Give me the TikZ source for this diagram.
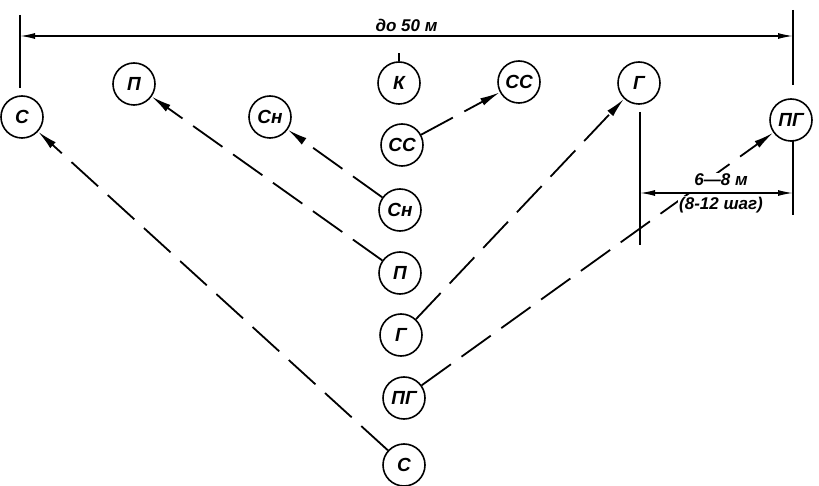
\documentclass[tikz,border=0pt]{standalone}
\usepackage{fontspec}
\setmainfont{Liberation Sans}
\usetikzlibrary{arrows.meta}
\begin{document}
\begin{tikzpicture}[x=1pt,y=-1pt,
    man/.style={draw,circle,line width=1.6pt,minimum size=42pt,inner sep=0pt,font=\bfseries\itshape\fontsize{19}{19}\selectfont},
    move/.style={line width=1.8pt,dash pattern=on 36pt off 13pt,-{Latex[length=20pt,width=8pt]}},
    dim/.style={line width=1.4pt,{Latex[length=15pt,width=6pt]}-{Latex[length=15pt,width=6pt]}},
    lbl/.style={font=\bfseries\itshape\fontsize{17}{17}\selectfont,inner sep=1pt}]
    \useasboundingbox (0,0) rectangle (819,486);
      % top row
      \node[man] (sl) at (22,117) {С};
      \node[man] (pt) at (134,84) {П};
      \node[man] (snt) at (270,117) {Сн};
      \node[man] (k) at (399,83) {К};
      \node[man] (sst) at (519,82) {СС};
      \node[man] (gt) at (639,83) {Г};
      \node[man] (pgr) at (791,120) {ПГ};
      % column
      \node[man] (ssm) at (402,145) {СС};
      \node[man] (snm) at (400,210) {Сн};
      \node[man] (pm) at (400,273) {П};
      \node[man] (gm) at (401,335) {Г};
      \node[man] (pgm) at (404,398) {ПГ};
      \node[man] (sb) at (404,465) {С};
      % moves
      \draw[move] (sb) -- (sl);
      \draw[move] (pm) -- (pt);
      \draw[move] (snm) -- (snt);
      \draw[move] (ssm) -- (sst);
      \draw[move] (gm) -- (gt);
      \draw[move] (pgm) -- (pgr);
      \draw[line width=1.4pt] (k.north) -- ++(0,-8);
      % dimensions
      \coordinate (dl) at (20,36);
      \coordinate (dr) at (793,36);
      \coordinate (gl) at (640,193);
      \coordinate (gr) at (793,193);
      \draw[line width=1.5pt] (20,15) -- (20,88);
      \draw[line width=1.5pt] (793,10) -- (793,85);
      \draw[line width=1.5pt] (793,140) -- (793,215);
      \draw[line width=1.5pt] (640,112) -- (640,245);
      \draw[dim] (dl) -- node[lbl,above=3pt] {до 50 м} (dr);
      \draw[dim] (gl) -- (gr);
      \node[lbl,fill=white] (d68) at (721,180) {6—8 м};
      \node[lbl,fill=white] (d812) at (721,205) {(8-12 шаг)};
    \end{tikzpicture}
\end{document}
